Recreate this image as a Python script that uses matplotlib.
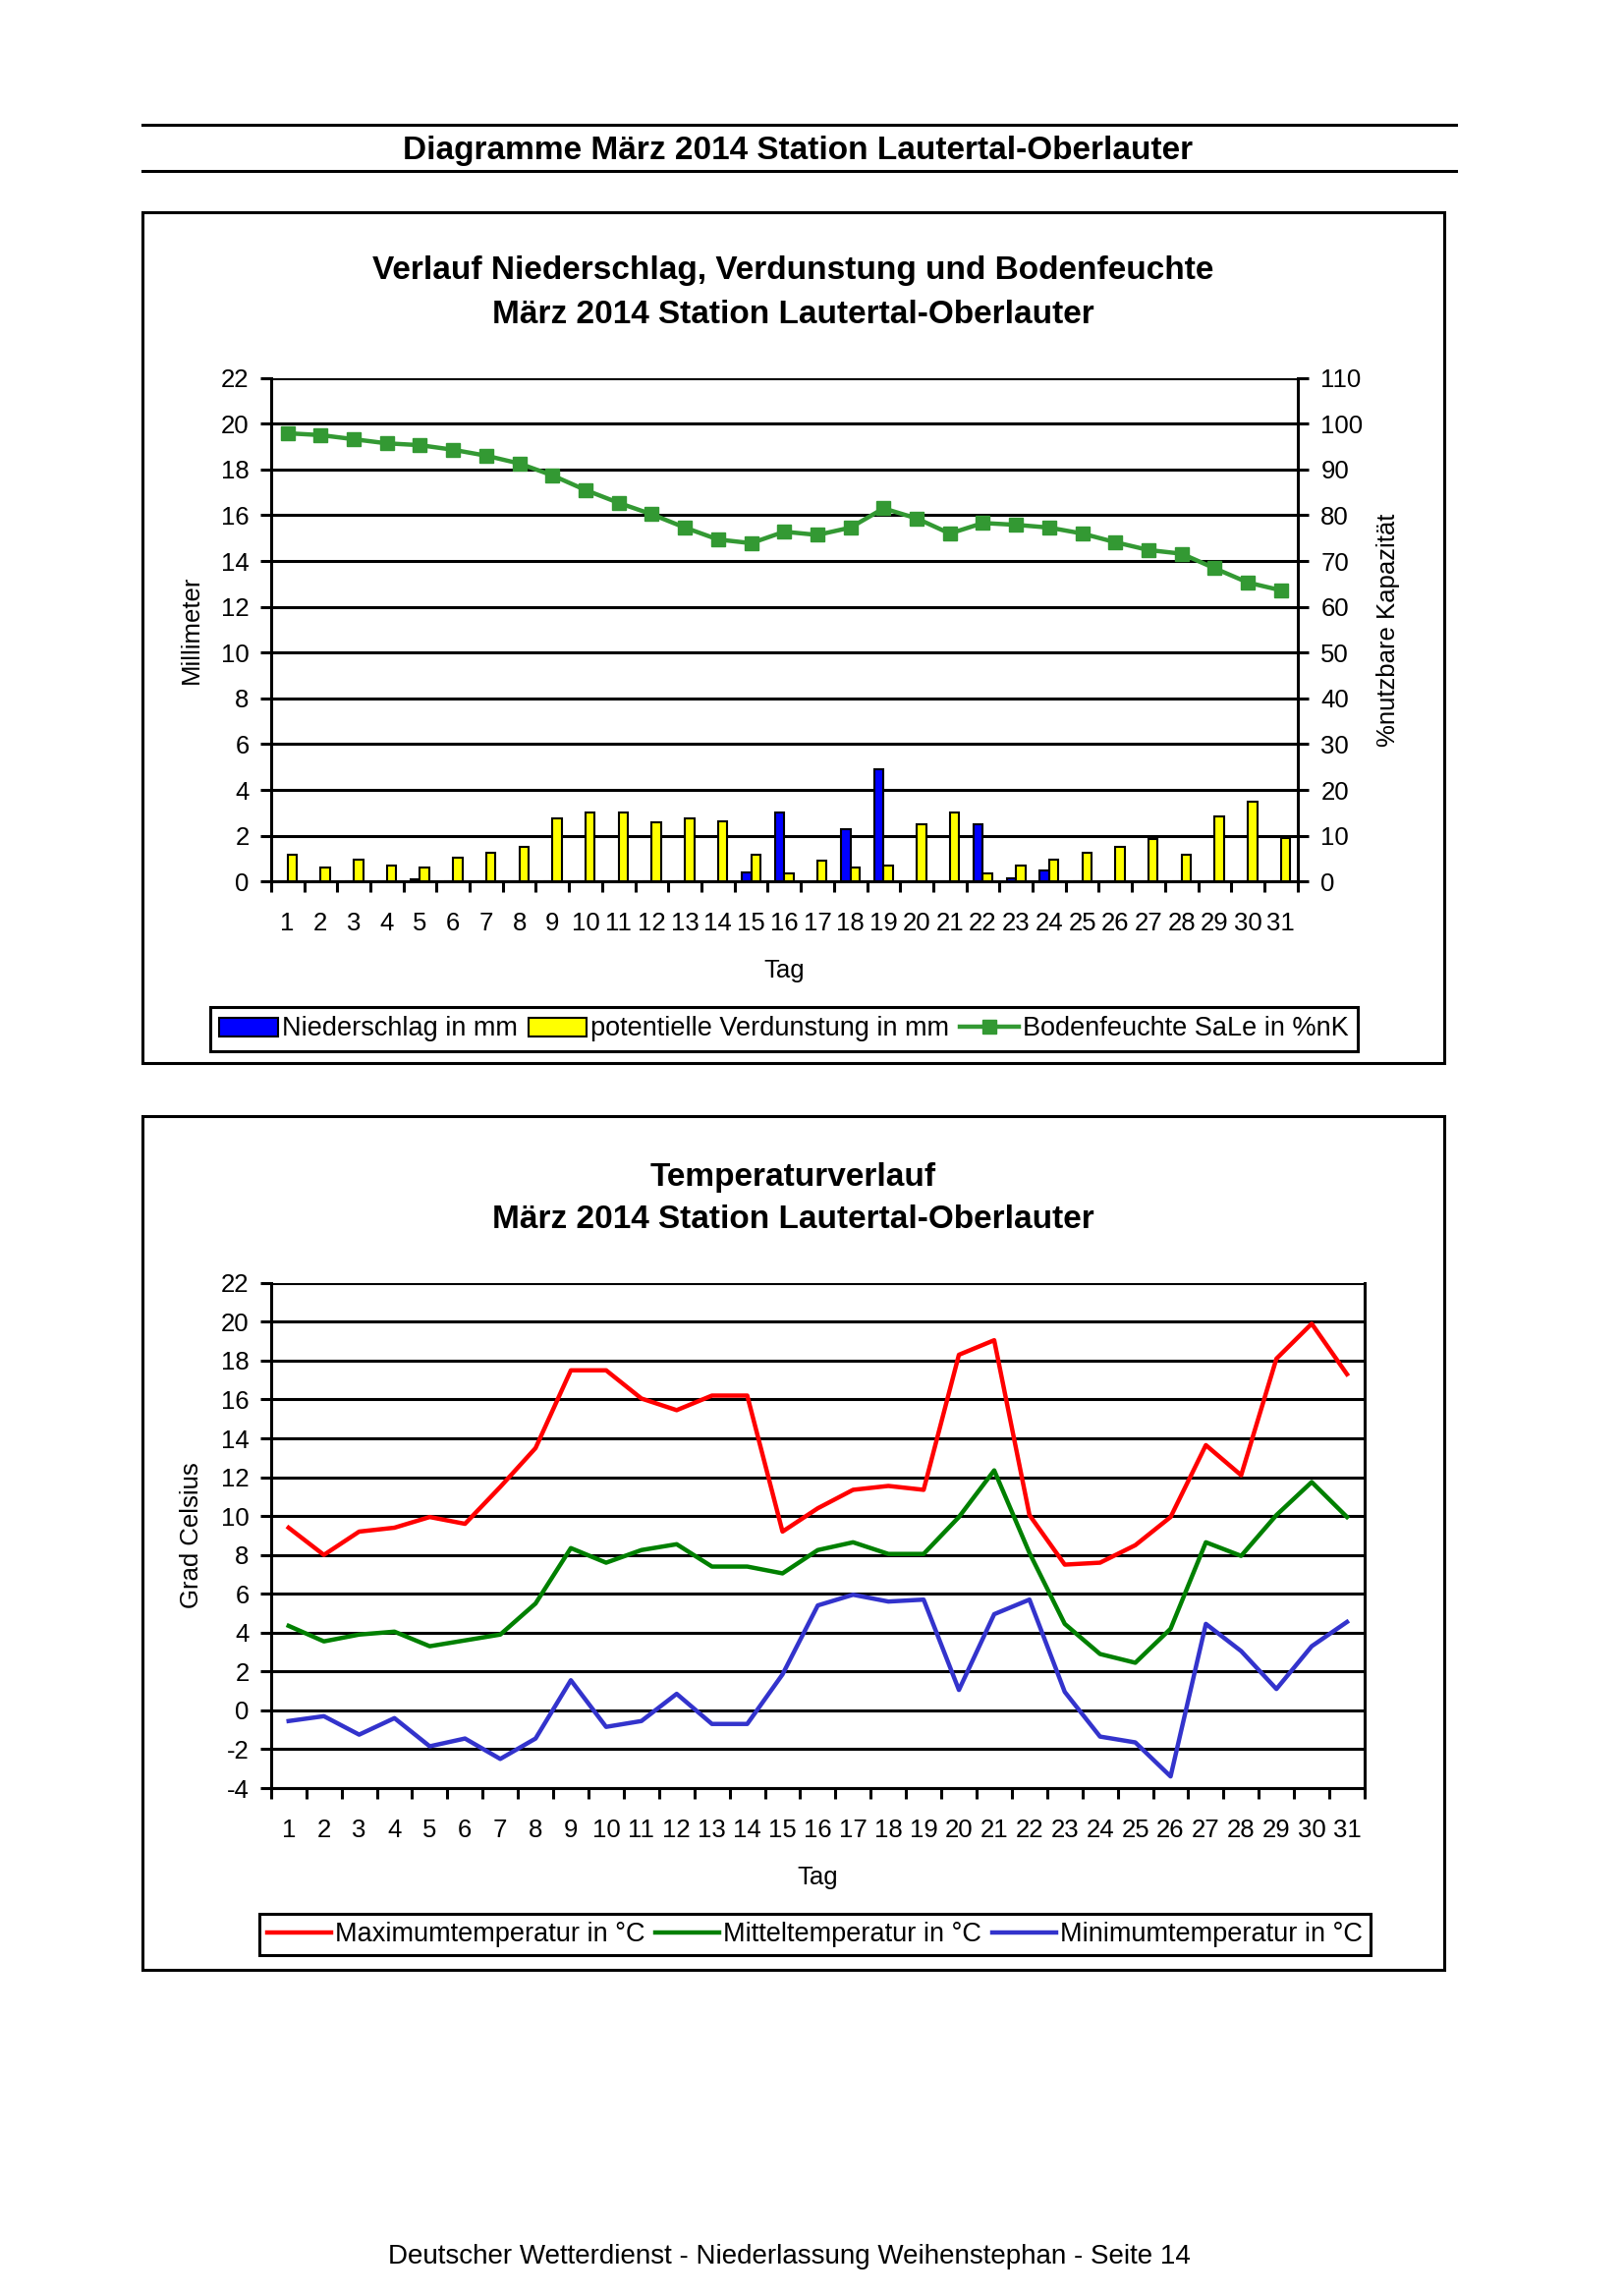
#!/usr/bin/env python3
"""
Diagramme März 2014 Station Lautertal-Oberlauter
Niederschlag / Verdunstung / Bodenfeuchte und Temperaturverlauf
"""

import numpy as np
import matplotlib
matplotlib.use('Agg')
import matplotlib.pyplot as plt
from matplotlib.patches import Rectangle, Patch
from matplotlib.lines import Line2D

plt.rcParams['font.family'] = ['Liberation Sans', 'DejaVu Sans']
plt.rcParams['axes.unicode_minus'] = False

# --- Daten ---
days = list(range(1, 32))

niederschlag = [0, 0, 0, 0, 0.1, 0, 0, 0, 0, 0, 0, 0, 0, 0, 0.4, 3.0,
                0, 2.3, 4.9, 0, 0, 2.5, 0.15, 0.5, 0, 0, 0, 0, 0, 0, 0]
verdunstung = [1.15, 0.6, 0.95, 0.7, 0.6, 1.05, 1.25, 1.5, 2.75, 3.0, 3.0,
               2.6, 2.75, 2.65, 1.15, 0.35, 0.9, 0.6, 0.7, 2.5, 3.0, 0.35,
               0.7, 0.95, 1.25, 1.5, 1.85, 1.15, 2.85, 3.5, 1.9]
bodenfeuchte = [97.9, 97.5, 96.6, 95.7, 95.3, 94.3, 93.0, 91.3, 88.7, 85.5,
                82.7, 80.2, 77.3, 74.7, 73.9, 76.4, 75.7, 77.3, 81.5, 79.3,
                76.0, 78.3, 77.9, 77.3, 76.0, 74.1, 72.4, 71.6, 68.4, 65.3, 63.6]

tmax = [9.4, 8.0, 9.2, 9.4, 9.95, 9.6, 11.5, 13.5, 17.5, 17.5, 16.05, 15.45,
        16.2, 16.2, 9.2, 10.4, 11.35, 11.55, 11.35, 18.3, 19.05, 10.05, 7.5,
        7.6, 8.5, 9.95, 13.65, 12.1, 18.1, 19.9, 17.3]
tmit = [4.35, 3.55, 3.9, 4.05, 3.3, 3.6, 3.9, 5.5, 8.35, 7.6, 8.25, 8.55, 7.4,
        7.4, 7.05, 8.25, 8.65, 8.05, 8.05, 9.95, 12.35, 8.1, 4.45, 2.9, 2.45,
        4.2, 8.65, 7.95, 10.05, 11.75, 9.95]
tmin = [-0.55, -0.3, -1.25, -0.4, -1.85, -1.45, -2.5, -1.45, 1.55, -0.85,
        -0.55, 0.85, -0.7, -0.7, 1.85, 5.4, 5.95, 5.6, 5.7, 1.05, 4.95, 5.7,
        0.95, -1.35, -1.65, -3.4, 4.45, 3.05, 1.1, 3.3, 4.55]

W, H = 1653, 2337
TICK_FS = 18.5
LEG_FS = 19.5
TITLE_FS = 24
LW = 2.2


def fx(px):
    return px / W


def fy(py):
    return 1 - py / H


def style_category_axis(ax):
    """Tage als Kategorien, Striche zwischen den Kategorien"""
    ax.set_xlim(0.5, 31.5)
    ax.set_xticks(np.arange(0.5, 32, 1))
    ax.set_xticklabels([])
    ax.set_xticks(days, minor=True)
    ax.set_xticklabels([str(d) for d in days], minor=True, fontsize=TICK_FS)
    ax.tick_params(axis='x', which='major', length=8, width=LW, direction='out')
    ax.tick_params(axis='x', which='minor', length=0, pad=22)
    ax.tick_params(axis='y', length=8, width=LW, direction='out',
                   labelsize=TICK_FS, pad=8)
    ax.yaxis.grid(True, color='black', linewidth=LW)
    ax.set_axisbelow(True)


fig = plt.figure(figsize=(W / 100, H / 100), dpi=100)

# --- Kopfzeile ---
for yy in (126.7, 174.4):
    fig.add_artist(Line2D([fx(144.6), fx(1481.7)], [fy(yy), fy(yy)],
                          transform=fig.transFigure, color='black', lw=LW))
fig.text(fx(812), fy(153.5), 'Diagramme März 2014 Station Lautertal-Oberlauter',
         ha='center', va='center', fontsize=TITLE_FS, fontweight='bold')

# --- Rahmen ---
for top, bottom in ((216.1, 1082.2), (1135.8, 2004.9)):
    fig.add_artist(Rectangle((fx(144.6), fy(bottom)), fx(1469.7) - fx(144.6),
                             (bottom - top) / H, transform=fig.transFigure,
                             fill=False, edgecolor='black', lw=LW))

# --- Diagramm 1: Niederschlag, Verdunstung, Bodenfeuchte ---
fig.text(fx(807), fy(275.8), 'Verlauf Niederschlag, Verdunstung und Bodenfeuchte',
         ha='center', va='center', fontsize=TITLE_FS, fontweight='bold')
fig.text(fx(807), fy(320.5), 'März 2014 Station Lautertal-Oberlauter',
         ha='center', va='center', fontsize=TITLE_FS, fontweight='bold')

ax1 = fig.add_axes([fx(275.8), fy(897.3), fx(1320.7) - fx(275.8), (897.3 - 384.6) / H])
x = np.array(days)
bw = 0.28
ax1.bar(x - bw / 2, niederschlag, bw, color='#0000FF', edgecolor='black',
        linewidth=1.5, zorder=3)
ax1.bar(x + bw / 2, verdunstung, bw, color='#FFFF00', edgecolor='black',
        linewidth=1.5, zorder=3)
ax1.set_ylim(0, 22)
ax1.set_yticks(range(0, 23, 2))
style_category_axis(ax1)
for s in ('top', 'right'):
    ax1.spines[s].set_visible(False)
for s in ('left', 'bottom'):
    ax1.spines[s].set_linewidth(LW)
ax1.set_ylabel('Millimeter', fontsize=TICK_FS, va='center')
ax1.yaxis.set_label_coords(-0.0773, 0.5)
ax1.set_xlabel('Tag', fontsize=TICK_FS, va='center')
ax1.xaxis.set_label_coords(0.5, -0.177)

ax1r = ax1.twinx()
ax1r.plot(days, bodenfeuchte, color='#339933', lw=3.2, marker='s', ms=10, zorder=4)
ax1r.set_ylim(0, 110)
ax1r.set_yticks(range(0, 111, 10))
ax1r.tick_params(axis='y', length=8, width=LW, direction='out',
                 labelsize=TICK_FS, pad=9)
for s in ('top', 'left', 'bottom'):
    ax1r.spines[s].set_visible(False)
ax1r.spines['right'].set_linewidth(LW)
ax1r.set_ylabel('%nutzbare Kapazität', fontsize=TICK_FS, va='center', rotation=90)
ax1r.yaxis.set_label_coords(1.088, 0.5)

h1 = [Patch(facecolor='#0000FF', edgecolor='black', lw=1.5),
      Patch(facecolor='#FFFF00', edgecolor='black', lw=1.5),
      Line2D([], [], color='#339933', lw=3.2, marker='s', ms=10)]
l1 = ['Niederschlag in mm', 'potentielle Verdunstung in mm', 'Bodenfeuchte SaLe in %nK']
leg1 = fig.legend(h1, l1, loc='center', bbox_to_anchor=(fx(798), fy(1047.5)),
                  ncol=3, fontsize=LEG_FS, frameon=True, fancybox=False,
                  edgecolor='black', framealpha=1, borderpad=0.35,
                  handlelength=2.2, handletextpad=0.15, columnspacing=0.4,
                  borderaxespad=0)
leg1.get_frame().set_linewidth(LW)

# --- Diagramm 2: Temperatur ---
fig.text(fx(807), fy(1198.5), 'Temperaturverlauf',
         ha='center', va='center', fontsize=TITLE_FS, fontweight='bold')
fig.text(fx(807), fy(1241.7), 'März 2014 Station Lautertal-Oberlauter',
         ha='center', va='center', fontsize=TITLE_FS, fontweight='bold')

ax2 = fig.add_axes([fx(275.8), fy(1820), fx(1389) - fx(275.8), (1820 - 1305.8) / H])
ax2.plot(days, tmax, color='#FF0000', lw=3.2, zorder=3)
ax2.plot(days, tmit, color='#008000', lw=3.2, zorder=3)
ax2.plot(days, tmin, color='#3333CC', lw=3.2, zorder=3)
ax2.set_ylim(-4, 22)
ax2.set_yticks(range(-4, 23, 2))
style_category_axis(ax2)
ax2.spines['top'].set_visible(False)
for s in ('left', 'bottom', 'right'):
    ax2.spines[s].set_linewidth(LW)
ax2.set_ylabel('Grad Celsius', fontsize=TICK_FS, va='center')
ax2.yaxis.set_label_coords(-0.0726, 0.5)
ax2.set_xlabel('Tag', fontsize=TICK_FS, va='center')
ax2.xaxis.set_label_coords(0.5, -0.177)

h2 = [Line2D([], [], color='#FF0000', lw=3.2),
      Line2D([], [], color='#008000', lw=3.2),
      Line2D([], [], color='#3333CC', lw=3.2)]
l2 = ['Maximumtemperatur in °C', 'Mitteltemperatur in °C', 'Minimumtemperatur in °C']
leg2 = fig.legend(h2, l2, loc='center', bbox_to_anchor=(fx(829.5), fy(1969)),
                  ncol=3, fontsize=LEG_FS, frameon=True, fancybox=False,
                  edgecolor='black', framealpha=1, borderpad=0.3,
                  handlelength=2.4, handletextpad=0.15, columnspacing=0.4,
                  borderaxespad=0)
leg2.get_frame().set_linewidth(LW)

# --- Fußzeile ---
fig.text(fx(803), fy(2297), 'Deutscher Wetterdienst - Niederlassung Weihenstephan - Seite 14',
         ha='center', va='center', fontsize=20)

fig.savefig('out.png', dpi=100)
